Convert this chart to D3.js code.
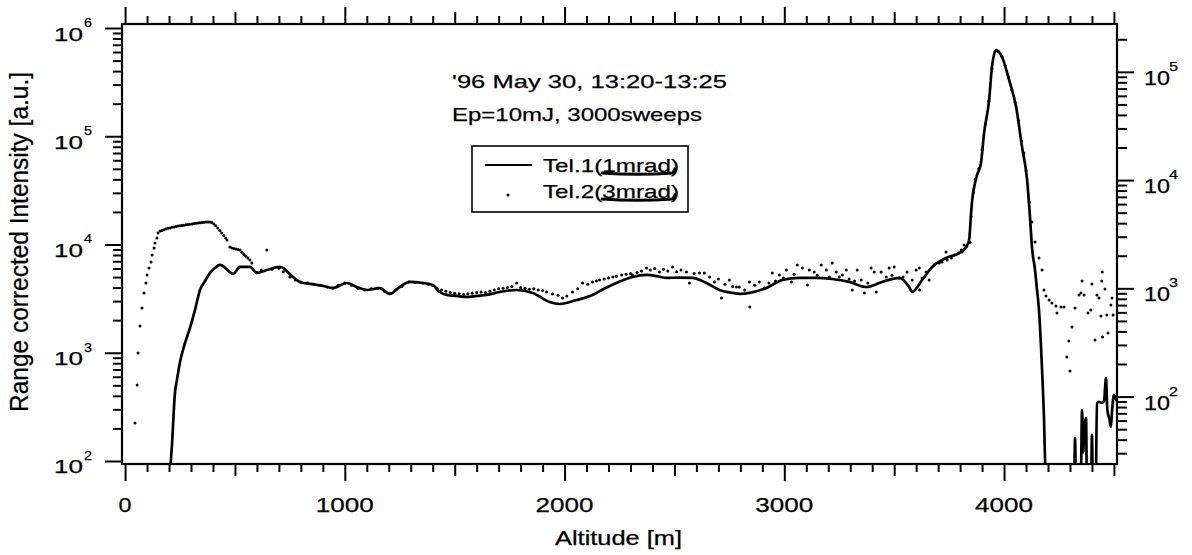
<!DOCTYPE html>
<html><head><meta charset="utf-8">
<script src="https://cdn.jsdelivr.net/npm/d3@7"></script>
<style>
html,body{margin:0;padding:0;background:#fff;}
svg{display:block;font-family:"Liberation Sans",Arial,Helvetica,sans-serif;}
</style></head><body>
<svg id="chart" width="1192" height="555"></svg>
<script>
// ---------------- data ----------------
const xTickLabels = ["0", "1000", "2000", "3000", "4000"];
const xTickValues = [0, 1000, 2000, 3000, 4000];
const leftDecades = [2, 3, 4, 5, 6];
const rightDecades = [2, 3, 4, 5];
const titleLines = ["'96 May 30, 13:20-13:25", "Ep=10mJ, 3000sweeps"];
const legendLabels = ["Tel.1(1mrad)", "Tel.2(3mrad)"];
const yTitle = "Range corrected Intensity [a.u.]";
const xTitle = "Altitude  [m]";

// Tel.1 (1 mrad): [altitude m, intensity a.u.]
const tel1Points = [
[205,80],[211,120],[214,147],[222,300],[227,425],[236,560],[250,822],[270,1180],[295,1690],[318,2480],
[341,3800],[364,4600],[386,5460],[410,6100],[432,6470],[477,5570],[491,5340],
[523,6200],[568,6200],[600,5460],[645,5810],[705,6200],[764,5010],[795,4510],[850,4300],[900,4150],[945,3960],
[1009,4410],[1060,4000],[1100,3800],[1159,3960],[1205,3490],[1250,4050],[1295,4510],[1355,4410],[1400,4230],[1432,3640],
[1464,3420],[1510,3350],[1555,3280],[1600,3350],[1645,3420],[1705,3640],[1782,3800],[1855,3570],[1932,2940],[1977,2820],
[2055,3070],[2127,3420],[2180,3900],[2236,4410],[2309,5010],[2373,5230],[2420,5100],[2464,4910],[2520,4950],[2582,4910],
[2645,4410],[2705,3800],[2764,3570],[2800,3500],[2841,3570],[2918,3960],[2991,4700],[3068,4910],[3145,4910],[3218,4800],
[3295,4510],[3373,4050],[3445,4510],[3523,4910],[3568,4050],[3582,3640],[3627,4700],[3673,6200],[3736,7500],[3795,8340],
[3827,9480],[3841,11000],[3850,19550],[3855,25760],[3864,33970],[3877,43830],[3895,56600],[3909,107000],[3932,216000],[3945,437000],
[3964,626000],[3991,540000],[4023,331000],[4055,186000],[4082,79400],[4105,39400],[4118,18000],[4127,9480],[4141,5810],[4150,3800],
[4159,2480],[4173,693],[4182,239],[4188,80],[4200,40],[4318,40],[4323,163],[4328,40],[4348,40],[4355,296],
[4360,120],[4365,200],[4373,250],[4378,40],[4395,40],[4400,174],[4405,40],[4416,40],[4423,344],[4432,351],
[4445,345],[4455,360],[4464,585],[4470,300],[4480,240],[4486,206],[4492,300],[4500,407],[4512,360]
];

// Tel.2 (3 mrad): [altitude m, intensity a.u.]
const tel2Points = [
[45,224],[55,503],[59,995],[68,1770],[77,2590],[86,3570],[95,4410],[100,5230],[109,6070],[118,6890],[123,8000],[132,9290],[136,10330],[145,11480],[150,12770],[159,13330],
[168,13500],[177,13700],[186,13900],[195,14100],[205,14200],[214,14400],[223,14500],[232,14700],[241,14800],[250,14900],[259,15000],[268,15100],[277,15200],[286,15300],[295,15400],[305,15500],[314,15600],[323,15700],[332,15800],[341,15900],[350,16000],[359,16050],[368,16100],[377,16150],[386,16150],[395,16000],[404,15500],[413,14900],[422,14200],[431,13500],[440,12800],[449,12100],[458,11500],[464,11000],
[477,9480],[486,9300],[495,9200],[505,9100],[514,9000],[523,8900],[532,8500],[541,8100],[550,7800],[559,7500],[568,7190],[577,6760],[645,8900],
[600,5500],[620,5800],[670,5900],[700,6000],[720,5600],[750,5000],[775,4700],[800,4500],[830,4400],[860,4300],[890,4200],[920,4050],[945,3960],[970,4200],[1000,4400],[1030,4200],[1060,3950],[1090,3800],[1120,3900],[1150,3950],[1180,3700],[1205,3500],[1230,3800],[1260,4100],[1290,4500],[1320,4450],[1355,4400],[1380,4300],[1400,4200],
[1420,3900],[1440,3800],[1460,3700],[1480,3600],[1500,3550],[1520,3500],[1540,3450],[1560,3500],[1580,3550],[1600,3600],[1620,3650],[1640,3600],[1660,3700],[1680,3800],[1700,3900],[1720,3950],[1740,4000],[1760,4100],[1782,4410],[1800,4000],[1820,3950],[1840,3850],[1860,3900],[1880,3800],[1900,3750],[1918,3640],[1945,3490],[1970,3400],[1991,3210],[2010,3350],[2036,3640],[2060,3900],[2082,4410],[2105,4300],[2127,4510],[2145,4600],[2159,4700],[2180,4800],[2200,4900],[2220,5000],[2236,5100],[2260,5230],[2280,5300],[2300,5400],[2309,5230],[2330,5500],[2350,5700],[2373,6070],[2390,5800],[2410,6000],[2432,5570],[2450,5900],[2470,5700],[2491,6200],[2510,5600],[2530,5800],[2555,5570],[2568,4410],[2590,5400],[2614,5460],[2636,5460],[2660,5000],[2682,4510],[2700,4800],[2714,3210],[2730,4300],[2750,4700],[2765,4100],[2782,4050],[2795,4050],[2820,3800],[2841,4510],[2843,2650],[2865,4200],[2886,4510],[2909,3960],[2930,4400],[2945,5460],[2960,4600],[2977,5230],[2995,4900],[3009,5810],[3032,4510],[3045,5300],[3059,6470],[3082,6070],[3105,4230],[3114,5810],[3136,5570],[3150,5200],[3168,6470],[3191,5810],[3205,5000],[3218,6750],[3236,5570],[3250,5000],[3264,5230],[3282,5810],[3295,4800],[3309,3800],[3320,4600],[3332,5810],[3350,4700],[3364,3570],[3380,4400],[3395,6070],[3409,5570],[3418,3640],[3441,5570],[3464,5010],[3477,6070],[3490,5200],[3500,6200],[3523,4910],[3540,5000],[3559,5570],[3582,4700],[3600,5810],[3614,6070],[3616,3800],[3627,4910],[3645,5570],[3659,4700],[3682,6470],[3705,6750],[3718,6890],[3736,8530],[3741,7190],[3760,7500],[3773,8000],[3795,8340],[3805,8900],[3809,8530],[3818,9890],[3830,9600],[3845,10500],
[3850,18000],[3860,30000],[3870,40000],[3885,50000],[3900,75000],[3915,130000],[3930,210000],[3945,420000],[3960,610000],[3975,600000],[3990,545000],[4005,450000],[4020,350000],[4035,270000],[4050,205000],[4065,140000],[4080,90000],[4090,70000],[4100,48000],
[4114,24700],[4127,16100],[4141,10540],[4159,7500],[4173,5810],[4182,3800],[4191,3340],[4205,3070],[4218,2880],[4236,2700],[4241,2330],[4259,2650],[4273,2650],[4286,915],[4295,1285],[4300,678],[4309,1730],[4323,2590],[4341,3420],[4350,3570],[4355,4600],[4364,3420],[4382,2330],[4395,2480],[4400,4320],[4414,1310],[4423,3420],[4432,3200],[4441,2190],[4445,4600],[4447,5570],[4448,1400],[4459,3880],[4468,2230],[4473,1520],[4486,2760],[4491,3200],[4496,2230]
];

// ---------------- layout ----------------
const svg = d3.select("#chart");
const P = {left: 122, right: 1117, top: 24, bottom: 464};
const rightRatio = 3.936; // left-axis units per right-axis unit

const x = d3.scaleLinear().domain([-14, 4514]).range([P.left, P.right]);
const yL = d3.scaleLog().domain([93.8, 1.089e6]).range([P.bottom, P.top]);
const yR = d3.scaleLog().domain([93.8 / rightRatio, 1.089e6 / rightRatio]).range([P.bottom, P.top]);

function styleAxis(g) {
  g.select(".domain").remove();
  g.selectAll(".tick line").attr("stroke", "#000").attr("stroke-width", 2);
  g.selectAll(".tick text").remove();
}

// x ticks (bottom & top)
const xMinor = d3.range(0, 4501, 100).filter(v => v % 500 !== 0);
const xMid = [500, 1500, 2500, 3500, 4500];
[[d3.axisBottom, P.bottom], [d3.axisTop, P.top]].forEach(([ax, yy]) => {
  [[xMinor, 8], [xMid, 12], [xTickValues, 17]].forEach(([vals, size]) => {
    svg.append("g").attr("transform", `translate(0,${yy})`)
      .call(ax(x).tickValues(vals).tickSize(size).tickFormat(""))
      .call(styleAxis);
  });
});

// y ticks
function logMinors(scale) {
  const out = [];
  const [d0, d1] = scale.domain();
  for (let e = -1; e <= 7; e++) for (let m = 2; m <= 9; m++) {
    const v = m * Math.pow(10, e);
    if (v >= d0 && v <= d1) out.push(v);
  }
  return out;
}
svg.append("g").attr("transform", `translate(${P.left},0)`)
  .call(d3.axisLeft(yL).tickValues(logMinors(yL)).tickSize(9).tickFormat("")).call(styleAxis);
svg.append("g").attr("transform", `translate(${P.left},0)`)
  .call(d3.axisLeft(yL).tickValues(leftDecades.map(d => Math.pow(10, d))).tickSize(17).tickFormat("")).call(styleAxis);
svg.append("g").attr("transform", `translate(${P.right},0)`)
  .call(d3.axisRight(yR).tickValues(logMinors(yR)).tickSize(10).tickFormat("")).call(styleAxis);
svg.append("g").attr("transform", `translate(${P.right},0)`)
  .call(d3.axisRight(yR).tickValues(rightDecades.map(d => Math.pow(10, d))).tickSize(17).tickFormat("")).call(styleAxis);

// frame
svg.append("rect").attr("x", P.left).attr("y", P.top)
  .attr("width", P.right - P.left).attr("height", P.bottom - P.top)
  .attr("fill", "none").attr("stroke", "#000").attr("stroke-width", 2.2);

// tick labels
function txt(x0, y0, s, size, len, anchor) {
  const t = svg.append("text").attr("x", x0).attr("y", y0).text(s)
    .attr("font-size", size).attr("fill", "#000").attr("text-anchor", anchor || "start")
    .attr("stroke", "#000").attr("stroke-width", 0.25);
  if (len) t.attr("textLength", len).attr("lengthAdjust", "spacingAndGlyphs");
  return t;
}
xTickValues.forEach((v, i) => {
  const s = xTickLabels[i];
  txt(x(v), 512, s, 21, s.length === 1 ? 13 : 58, "middle");
});
leftDecades.forEach(d => {
  const yy = yL(Math.pow(10, d));
  txt(54, yy + 12.5, "10", 19, 29);
  txt(84, yy - 1, String(d), 13, 8);
});
rightDecades.forEach(d => {
  const yy = yR(Math.pow(10, d));
  txt(1144, yy + 13, "10", 20, 26);
  txt(1169, yy - 1, String(d), 13, 9);
});

// axis titles
txt(555, 545, xTitle, 20, 127);
svg.append("text").attr("transform", "translate(28,242) scale(1.3,1) rotate(-90)")
  .attr("text-anchor", "middle").attr("font-size", 20).attr("fill", "#000")
  .attr("stroke", "#000").attr("stroke-width", 0.2)
  .attr("textLength", 340).attr("lengthAdjust", "spacingAndGlyphs").text(yTitle);

// annotation
txt(452, 88, titleLines[0], 19, 275);
txt(452, 121, titleLines[1], 19, 250);

// data
svg.append("clipPath").attr("id", "clip").append("rect")
  .attr("x", P.left).attr("y", P.top).attr("width", P.right - P.left).attr("height", P.bottom - P.top);
const plotG = svg.append("g").attr("clip-path", "url(#clip)");

plotG.append("g").selectAll("circle").data(tel2Points).join("circle")
  .attr("cx", d => x(d[0])).attr("cy", d => yL(d[1])).attr("r", 1.5).attr("fill", "#000");

plotG.append("path").datum(tel1Points)
  .attr("d", d3.line().curve(d3.curveMonotoneX).x(d => x(d[0])).y(d => yL(d[1])))
  .attr("fill", "none").attr("stroke", "#000").attr("stroke-width", 2.7)
  .attr("stroke-linejoin", "round");

// legend
svg.append("rect").attr("x", 472).attr("y", 146).attr("width", 216).attr("height", 66)
  .attr("fill", "#fff").attr("stroke", "#000").attr("stroke-width", 1.6);
svg.append("line").attr("x1", 485).attr("x2", 532).attr("y1", 165).attr("y2", 165)
  .attr("stroke", "#000").attr("stroke-width", 2);
svg.append("circle").attr("cx", 508).attr("cy", 195).attr("r", 1.5).attr("fill", "#000");
[172, 198].forEach((b, i) => {
  const t = txt(543, b, legendLabels[i], 19, 136);
  const node = t.node();
  let x0 = 588, x1 = 675;
  try {
    x0 = node.getStartPositionOfChar(6).x;
    x1 = node.getEndPositionOfChar(10).x;
  } catch (e) {}
  svg.append("path")
    .attr("d", `M${x0},${b + 1} Q${(x0 + x1) / 2},${b + 3.5} ${x1 + 2},${b + 1} L${x1 + 4},${b - 3}`)
    .attr("fill", "none").attr("stroke", "#000").attr("stroke-width", 3.2)
    .attr("stroke-linecap", "round").attr("stroke-linejoin", "round");
});
</script>
</body></html>
